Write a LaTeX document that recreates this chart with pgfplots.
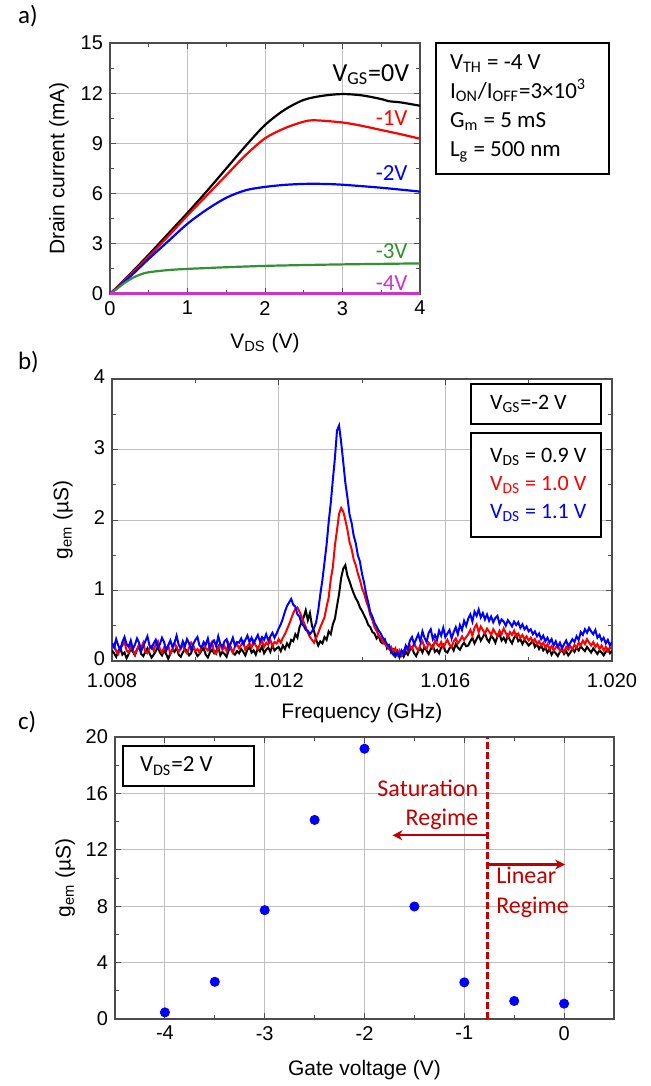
\documentclass[border=0pt]{standalone}
\usepackage{fontspec}
\setmainfont{Liberation Sans}
\newfontfamily\calib{Carlito}
\usepackage{amsmath}
\usepackage{pgfplots}
\usepackage{pgfplotstable}
\pgfplotsset{compat=1.18}
\usetikzlibrary{arrows.meta}

\definecolor{dkred}{RGB}{192,0,0}
\definecolor{vgreen}{RGB}{51,145,51}
\definecolor{vmag}{RGB}{204,51,204}
\newcommand{\sub}[1]{\ensuremath{_{\text{#1}}}}

\pgfplotsset{
  panel/.style={
    scale only axis,
    axis line style={black!70, line width=0.6pt},
    grid=major,
    grid style={black!25, line width=0.5pt},
    tick style={black!70, line width=0.5pt},
    major tick length=3pt, minor tick length=2pt,
    /pgf/number format/assume math mode=true,
    ticklabel style={font=\fontsize{10}{12}\selectfont},
    label style={font=\fontsize{10.5}{12}\selectfont},
  }
}

% panel b spectra: frequency (GHz), V_DS = 0.9, 1.0, 1.1 V
\pgfplotstableread{
f k r b
1.00800 0.15 0.19 0.25
1.00805 0.11 0.24 0.19
1.00810 0.06 0.14 0.31
1.00815 0.14 0.10 0.22
1.00820 0.19 0.18 0.16
1.00825 0.09 0.22 0.27
1.00830 0.12 0.27 0.34
1.00835 0.04 0.15 0.24
1.00840 0.10 0.12 0.20
1.00845 0.17 0.20 0.29
1.00850 0.13 0.16 0.17
1.00855 0.08 0.09 0.23
1.00860 0.16 0.17 0.32
1.00865 0.21 0.23 0.26
1.00870 0.10 0.19 0.14
1.00875 0.07 0.26 0.21
1.00880 0.13 0.13 0.28
1.00885 0.18 0.11 0.35
1.00890 0.11 0.18 0.22
1.00895 0.05 0.21 0.18
1.00900 0.09 0.15 0.25
1.00905 0.14 0.24 0.30
1.00910 0.20 0.28 0.19
1.00915 0.12 0.17 0.24
1.00920 0.08 0.12 0.33
1.00925 0.15 0.19 0.27
1.00930 0.10 0.14 0.15
1.00935 0.03 0.22 0.22
1.00940 0.11 0.10 0.29
1.00945 0.16 0.16 0.20
1.00950 0.13 0.25 0.26
1.00955 0.19 0.20 0.36
1.00960 0.09 0.13 0.23
1.00965 0.06 0.18 0.18
1.00970 0.12 0.23 0.28
1.00975 0.17 0.15 0.21
1.00980 0.14 0.11 0.31
1.00985 0.08 0.19 0.25
1.00990 0.11 0.26 0.16
1.00995 0.22 0.21 0.24
1.01000 0.13 0.14 0.30
1.01005 0.07 0.17 0.34
1.01010 0.10 0.12 0.22
1.01015 0.15 0.20 0.19
1.01020 0.18 0.24 0.27
1.01025 0.09 0.18 0.23
1.01030 0.05 0.15 0.32
1.01035 0.12 0.22 0.17
1.01040 0.16 0.27 0.26
1.01045 0.11 0.13 0.29
1.01050 0.14 0.10 0.21
1.01055 0.20 0.19 0.35
1.01060 0.08 0.23 0.24
1.01065 0.13 0.16 0.20
1.01070 0.10 0.21 0.28
1.01075 0.06 0.14 0.31
1.01080 0.15 0.25 0.18
1.01085 0.19 0.18 0.25
1.01090 0.12 0.12 0.33
1.01095 0.09 0.20 0.22
1.01100 0.14 0.24 0.27
1.01105 0.11 0.18 0.26
1.01110 0.17 0.23 0.32
1.01115 0.13 0.27 0.24
1.01120 0.08 0.16 0.30
1.01125 0.16 0.21 0.36
1.01130 0.20 0.25 0.27
1.01135 0.12 0.19 0.33
1.01140 0.15 0.28 0.25
1.01145 0.09 0.22 0.31
1.01150 0.18 0.17 0.37
1.01155 0.14 0.24 0.28
1.01160 0.21 0.29 0.34
1.01165 0.11 0.20 0.30
1.01170 0.16 0.26 0.38
1.01175 0.19 0.23 0.29
1.01180 0.13 0.30 0.35
1.01185 0.22 0.21 0.40
1.01190 0.15 0.27 0.33
1.01195 0.18 0.25 0.39
1.01200 0.20 0.31 0.46
1.01205 0.14 0.26 0.52
1.01210 0.22 0.33 0.60
1.01215 0.17 0.38 0.70
1.01220 0.25 0.45 0.78
1.01225 0.20 0.52 0.83
1.01230 0.30 0.60 0.88
1.01235 0.28 0.68 0.80
1.01240 0.38 0.74 0.77
1.01245 0.33 0.76 0.66
1.01250 0.48 0.70 0.63
1.01255 0.55 0.63 0.53
1.01260 0.62 0.55 0.50
1.01265 0.72 0.48 0.44
1.01270 0.58 0.40 0.43
1.01275 0.68 0.34 0.38
1.01280 0.50 0.30 0.42
1.01285 0.42 0.26 0.47
1.01290 0.30 0.33 0.55
1.01295 0.22 0.40 0.72
1.01300 0.28 0.48 0.95
1.01305 0.25 0.55 1.15
1.01310 0.34 0.62 1.40
1.01315 0.30 0.77 1.65
1.01320 0.42 0.90 1.97
1.01325 0.38 1.16 2.24
1.01330 0.52 1.33 2.57
1.01335 0.60 1.64 2.88
1.01340 0.78 1.86 3.27
1.01345 0.95 2.09 3.34
1.01350 1.18 2.17 3.10
1.01355 1.31 2.12 2.82
1.01360 1.36 2.00 2.53
1.01365 1.21 1.86 2.32
1.01370 1.13 1.69 2.08
1.01375 1.04 1.59 1.96
1.01380 0.96 1.44 1.78
1.01385 0.89 1.36 1.67
1.01390 0.84 1.24 1.50
1.01395 0.76 1.15 1.41
1.01400 0.71 1.03 1.24
1.01405 0.65 0.96 1.11
1.01410 0.59 0.85 0.95
1.01415 0.51 0.77 0.83
1.01420 0.48 0.65 0.69
1.01425 0.41 0.58 0.63
1.01430 0.39 0.48 0.54
1.01435 0.32 0.43 0.49
1.01440 0.36 0.36 0.43
1.01445 0.27 0.33 0.39
1.01450 0.25 0.27 0.33
1.01455 0.30 0.24 0.29
1.01460 0.18 0.21 0.24
1.01465 0.22 0.17 0.21
1.01470 0.12 0.20 0.14
1.01475 0.16 0.13 0.09
1.01480 0.08 0.18 0.06
1.01485 0.14 0.09 0.12
1.01490 0.05 0.15 0.07
1.01495 0.11 0.08 0.15
1.01500 0.06 0.14 0.10
1.01505 0.13 0.20 0.22
1.01510 0.09 0.14 0.17
1.01515 0.16 0.22 0.29
1.01520 0.19 0.17 0.34
1.01525 0.11 0.25 0.24
1.01530 0.07 0.19 0.31
1.01535 0.14 0.15 0.38
1.01540 0.18 0.23 0.28
1.01545 0.12 0.28 0.42
1.01550 0.20 0.20 0.33
1.01555 0.15 0.17 0.27
1.01560 0.10 0.26 0.40
1.01565 0.17 0.22 0.45
1.01570 0.22 0.18 0.31
1.01575 0.13 0.29 0.37
1.01580 0.16 0.24 0.30
1.01585 0.11 0.21 0.43
1.01590 0.19 0.27 0.36
1.01595 0.23 0.19 0.47
1.01600 0.14 0.25 0.34
1.01605 0.12 0.30 0.39
1.01610 0.18 0.23 0.44
1.01615 0.21 0.20 0.32
1.01620 0.15 0.28 0.41
1.01625 0.24 0.32 0.48
1.01630 0.19 0.25 0.38
1.01635 0.16 0.29 0.51
1.01640 0.22 0.35 0.44
1.01645 0.26 0.30 0.57
1.01650 0.21 0.34 0.50
1.01655 0.22 0.38 0.60
1.01660 0.28 0.44 0.66
1.01665 0.33 0.36 0.56
1.01670 0.25 0.47 0.70
1.01675 0.31 0.52 0.64
1.01680 0.37 0.41 0.73
1.01685 0.29 0.49 0.62
1.01690 0.34 0.44 0.68
1.01695 0.40 0.39 0.59
1.01700 0.31 0.46 0.66
1.01705 0.27 0.42 0.57
1.01710 0.36 0.37 0.63
1.01715 0.32 0.45 0.55
1.01720 0.26 0.40 0.61
1.01725 0.35 0.35 0.64
1.01730 0.38 0.43 0.53
1.01735 0.29 0.38 0.59
1.01740 0.33 0.46 0.56
1.01745 0.27 0.40 0.50
1.01750 0.36 0.34 0.58
1.01755 0.30 0.41 0.54
1.01760 0.25 0.37 0.49
1.01765 0.33 0.43 0.56
1.01770 0.37 0.35 0.51
1.01775 0.28 0.39 0.55
1.01780 0.31 0.33 0.47
1.01785 0.24 0.37 0.52
1.01790 0.30 0.31 0.45
1.01795 0.26 0.35 0.49
1.01800 0.22 0.29 0.42
1.01805 0.25 0.33 0.45
1.01810 0.29 0.27 0.38
1.01815 0.20 0.31 0.42
1.01820 0.24 0.24 0.35
1.01825 0.17 0.28 0.39
1.01830 0.22 0.22 0.31
1.01835 0.15 0.26 0.36
1.01840 0.19 0.19 0.28
1.01845 0.12 0.24 0.33
1.01850 0.17 0.17 0.26
1.01855 0.09 0.21 0.31
1.01860 0.14 0.15 0.22
1.01865 0.11 0.19 0.28
1.01870 0.07 0.22 0.20
1.01875 0.13 0.14 0.26
1.01880 0.16 0.18 0.18
1.01885 0.10 0.13 0.24
1.01890 0.14 0.20 0.29
1.01895 0.08 0.16 0.21
1.01900 0.12 0.21 0.26
1.01905 0.17 0.17 0.31
1.01910 0.13 0.23 0.27
1.01915 0.19 0.19 0.35
1.01920 0.15 0.26 0.30
1.01925 0.21 0.22 0.41
1.01930 0.17 0.29 0.37
1.01935 0.14 0.24 0.45
1.01940 0.20 0.31 0.40
1.01945 0.16 0.26 0.47
1.01950 0.12 0.22 0.42
1.01955 0.18 0.27 0.38
1.01960 0.14 0.20 0.44
1.01965 0.10 0.24 0.33
1.01970 0.15 0.17 0.37
1.01975 0.12 0.22 0.29
1.01980 0.08 0.15 0.33
1.01985 0.13 0.20 0.25
1.01990 0.17 0.14 0.30
1.01995 0.11 0.19 0.22
1.02000 0.15 0.17 0.27
}\spectra

\begin{document}
\begin{tikzpicture}
\useasboundingbox (0,0) rectangle (325pt,-543pt);

% ---------------- a) ----------------
\node[font=\calib\fontsize{12.5}{14}\selectfont, anchor=west] at (5.5pt,-8pt) {a)};
\begin{axis}[panel,
  at={(55pt,-147pt)}, anchor=south west,
  width=155pt, height=125.5pt,
  xmin=0, xmax=4, ymin=0, ymax=15,
  xtick={0,1,2,3,4}, ytick={0,3,6,9,12,15},
  minor x tick num=1, minor y tick num=1,
  xlabel={V\sub{DS} (V)},
  ylabel={Drain current (mA)},
  xlabel style={at={(axis description cs:0.5,-0.195)}, anchor=center},
  ylabel style={at={(axis description cs:-0.165,0.5)}, anchor=center},
]
\addplot[black, line width=1.1pt, smooth] coordinates {
 (0,0) (0.25,1.15) (0.5,2.35) (0.75,3.6) (1,4.85) (1.25,6.15) (1.5,7.5)
 (1.75,8.85) (2,10.1) (2.25,11.0) (2.5,11.6) (2.75,11.85) (3,11.95)
 (3.25,11.87) (3.5,11.65) (3.6,11.52) (3.75,11.45) (4,11.25)};
\addplot[red, line width=1.1pt, smooth] coordinates {
 (0,0) (0.25,1.1) (0.5,2.25) (0.75,3.45) (1,4.7) (1.25,5.9) (1.5,7.1)
 (1.75,8.3) (2,9.3) (2.25,9.9) (2.5,10.3) (2.65,10.38) (3,10.25)
 (3.25,10.05) (3.5,9.8) (3.75,9.55) (4,9.28)};
\addplot[blue, line width=1.1pt, smooth] coordinates {
 (0,0) (0.25,1.0) (0.5,2.1) (0.75,3.15) (1,4.2) (1.25,5.05) (1.5,5.75)
 (1.75,6.2) (2,6.4) (2.25,6.52) (2.5,6.58) (2.75,6.58) (3,6.53) (3.5,6.35) (4,6.12)};
\addplot[vgreen, line width=1.1pt, smooth] coordinates {
 (0,0) (0.1,0.35) (0.2,0.7) (0.3,0.98) (0.4,1.18) (0.5,1.3) (0.75,1.43)
 (1,1.5) (1.5,1.6) (2,1.68) (2.5,1.73) (3,1.77) (3.5,1.8) (4,1.83)};
\addplot[vmag, line width=1.3pt] coordinates {(0,0.02) (4,0.02)};
\node[anchor=east, font=\calib\fontsize{13}{15}\selectfont] at (axis cs:3.95,13.1) {V\sub{GS}=0V};
\node[anchor=east, text=red, font=\calib\fontsize{11.5}{13}\selectfont] at (axis cs:3.93,10.5) {-1V};
\node[anchor=east, text=blue, font=\calib\fontsize{11.5}{13}\selectfont] at (axis cs:3.93,7.2) {-2V};
\node[anchor=east, text=vgreen, font=\calib\fontsize{11.5}{13}\selectfont] at (axis cs:3.93,2.55) {-3V};
\node[anchor=east, text=vmag, font=\calib\fontsize{11.5}{13}\selectfont] at (axis cs:3.93,0.66) {-4V};
\end{axis}
\draw[black, line width=0.8pt] (218pt,-21.5pt) rectangle (304.5pt,-87pt);
\node[anchor=west, align=left, font=\calib\fontsize{11.5}{14.5}\selectfont] at (221.5pt,-54.25pt)
  {V\sub{TH} = -4 V\\I\sub{ON}/I\sub{OFF}=3×10\ensuremath{^{\text{3}}}\\G\sub{m} = 5 mS\\L\sub{g} = 500 nm};

% ---------------- b) ----------------
\node[font=\calib\fontsize{12.5}{14}\selectfont, anchor=west] at (5.5pt,-181pt) {b)};
\begin{axis}[panel,
  at={(56pt,-330.5pt)}, anchor=south west,
  width=250pt, height=141pt,
  xmin=1.008, xmax=1.020, ymin=0, ymax=4,
  xtick={1.008,1.012,1.016,1.020},
  xticklabels={1.008,1.012,1.016,1.020},
  minor xtick={1.010,1.014,1.018},
  ytick={0,1,2,3,4}, minor y tick num=1,
  xticklabel style={yshift=-2.5pt},
  yticklabel style={yshift=1pt},
  xlabel={Frequency (GHz)},
  ylabel={g\sub{em} (µS)},
  xlabel style={at={(axis description cs:0.5,-0.185)}, anchor=center},
  ylabel style={at={(axis description cs:-0.098,0.5)}, anchor=center},
]
\addplot[black, line width=1.0pt] table[x=f, y=k] {\spectra};
\addplot[red, line width=1.0pt] table[x=f, y=r] {\spectra};
\addplot[blue, line width=1.0pt] table[x=f, y=b] {\spectra};
\draw[black, line width=0.8pt, fill=white] (rel axis cs:0.718,0.982) rectangle (rel axis cs:0.978,0.840);
\node[anchor=west, font=\calib\fontsize{11}{13}\selectfont] at (rel axis cs:0.742,0.911) {V\sub{GS}=-2 V};
\draw[black, line width=0.8pt, fill=white] (rel axis cs:0.718,0.809) rectangle (rel axis cs:0.978,0.440);
\node[anchor=west, align=left, font=\calib\fontsize{11}{14}\selectfont] at (rel axis cs:0.742,0.6245)
  {V\sub{DS} = 0.9 V\\\textcolor{red}{V\sub{DS} = 1.0 V}\\\textcolor{blue}{V\sub{DS} = 1.1 V}};
\end{axis}

% ---------------- c) ----------------
\node[font=\calib\fontsize{12.5}{14}\selectfont, anchor=west] at (5.5pt,-361pt) {c)};
\begin{axis}[panel,
  at={(57.5pt,-509.5pt)}, anchor=south west,
  width=249.5pt, height=141pt,
  xmin=-4.5, xmax=0.5, ymin=0, ymax=20,
  xtick={-4,-3,-2,-1,0}, ytick={0,4,8,12,16,20},
  minor x tick num=1, minor y tick num=1,
  xlabel={Gate voltage (V)},
  ylabel={g\sub{em} (µS)},
  xlabel style={at={(axis description cs:0.5,-0.181)}, anchor=center},
  ylabel style={at={(axis description cs:-0.1,0.5)}, anchor=center},
]
\addplot[only marks, mark=*, mark size=2.3pt, blue, mark options={draw=blue, fill=blue}] coordinates {
 (-4,0.47) (-3.5,2.64) (-3,7.72) (-2.5,14.12) (-2,19.17) (-1.5,7.98) (-1,2.60) (-0.5,1.28) (0,1.09)};
\draw[dkred, line width=1.3pt, dash pattern=on 3.5pt off 1.5pt] (axis cs:-0.77,0) -- (axis cs:-0.77,20);
\draw[dkred, line width=1.1pt, -{Stealth[length=5pt,width=5pt]}] (axis cs:-0.77,13.03) -- (axis cs:-1.72,13.03);
\draw[dkred, line width=1.1pt, -{Stealth[length=5pt,width=5pt]}] (axis cs:-0.77,10.96) -- (axis cs:0.01,10.96);
\node[anchor=east, align=right, text=dkred, font=\calib\fontsize{12}{14.5}\selectfont] at (axis cs:-0.79,15.2) {Saturation\\Regime};
\node[anchor=west, align=left, text=dkred, font=\calib\fontsize{12}{15}\selectfont] at (axis cs:-0.75,9.0) {Linear\\Regime};
\draw[black, line width=0.8pt, fill=white] (rel axis cs:0.016,0.968) rectangle (rel axis cs:0.279,0.826);
\node[anchor=west, font=\calib\fontsize{11.5}{13}\selectfont] at (rel axis cs:0.036,0.897) {V\sub{DS}=2 V};
\end{axis}
\end{tikzpicture}
\end{document}
